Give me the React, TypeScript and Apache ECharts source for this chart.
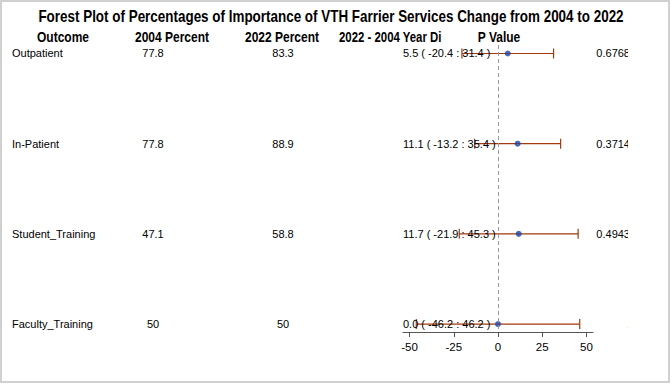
import React, { useEffect, useRef } from "react";
import * as echarts from "echarts";

const titleText =
  "Forest Plot of Percentages of Importance of VTH Farrier Services Change from 2004 to 2022";
const headers = ["Outcome", "2004 Percent", "2022 Percent", "2022 - 2004 Year Di", "P Value"];
const outcomes = ["Outpatient", "In-Patient", "Student_Training", "Faculty_Training"];
const pct2004 = ["77.8", "77.8", "47.1", "50"];
const pct2022 = ["83.3", "88.9", "58.8", "50"];
const diff = [5.5, 11.1, 11.7, 0.0];
const lower = [-20.4, -13.2, -21.9, -46.2];
const upper = [31.4, 35.4, 45.3, 46.2];
const pValues = ["0.6768", "0.3714", "0.4943", "."];
const xTicks = [-50, -25, 0, 25, 50];

const DATA_FONT = '"Liberation Sans", Arial, Helvetica, sans-serif';
const HEAD_FONT = '"Liberation Sans", Arial, sans-serif';
const BAR_COLOR = "#A3390E";
const DOT_COLOR = "#1F44A6";
const NARROW = 0.8;

export default function App() {
  const ref = useRef<HTMLDivElement>(null);

  useEffect(() => {
    if (!ref.current) return;
    const chart = echarts.init(ref.current, null, { renderer: "svg" });
    const rows = outcomes.map((_, i) => i);
    const yMin = -0.094;
    const yMax = 3.088;
    const dataFont = `11px ${DATA_FONT}`;

    const txt = (text: string, x: number, y: number, align: string) => ({
      type: "text",
      x,
      y,
      style: {
        text,
        font: dataFont,
        fill: "#000",
        align,
        verticalAlign: "middle",
        textAlign: align,
        textVerticalAlign: "middle",
      },
    });

    const headerPos: [number, string][] = [
      [63, "center"],
      [172, "center"],
      [282, "center"],
      [339, "left"],
      [499, "center"],
    ];

    const option: any = {
      animation: false,
      backgroundColor: "#ffffff",
      graphic: [
        {
          type: "rect",
          shape: { x: 1, y: 1, width: 668, height: 381 },
          style: { fill: "none", stroke: "#d0d0d0", lineWidth: 2 },
          silent: true,
        },
        {
          type: "text",
          x: 331,
          y: 17,
          scaleX: 0.84,
          style: {
            text: titleText,
            font: `bold 16px ${HEAD_FONT}`,
            fill: "#000",
            textAlign: "center",
            textVerticalAlign: "middle",
            align: "center",
            verticalAlign: "middle",
          },
        },
        ...headers.map((h, k) => ({
          type: "text",
          x: headerPos[k][0],
          y: 37,
          scaleX: k === 3 ? 0.76 : NARROW,
          style: {
            text: h,
            font: `bold 15px ${HEAD_FONT}`,
            fill: "#000",
            textAlign: headerPos[k][1],
            textVerticalAlign: "middle",
            align: headerPos[k][1],
            verticalAlign: "middle",
          },
        })),
      ],
      grid: [
        { left: 403, width: 190, top: 45, height: 287 },
        { left: 0, width: 672, top: 45, height: 287 },
      ],
      xAxis: [
        {
          type: "value",
          gridIndex: 0,
          min: -53.7,
          max: 53.7,
          position: "bottom",
          axisLine: { show: true, onZero: false, lineStyle: { color: "#555", width: 1 } },
          axisTick: {
            show: true,
            customValues: xTicks,
            length: 5,
            lineStyle: { color: "#555" },
          },
          axisLabel: {
            customValues: xTicks,
            fontSize: 11.5,
            color: "#000",
            margin: 9,
            fontFamily: DATA_FONT,
          },
          splitLine: { show: false },
        },
        { type: "value", gridIndex: 1, min: 0, max: 672, show: false },
      ],
      yAxis: [
        { type: "value", gridIndex: 0, min: yMin, max: yMax, inverse: true, show: false },
        { type: "value", gridIndex: 1, min: yMin, max: yMax, inverse: true, show: false },
      ],
      series: [
        {
          type: "custom",
          name: "CI",
          xAxisIndex: 0,
          yAxisIndex: 0,
          clip: false,
          data: rows.map((i) => [lower[i], upper[i], i]),
          encode: { x: [0, 1], y: 2 },
          renderItem: (params: any, api: any) => {
            const y = api.value(2);
            const a = api.coord([api.value(0), y]);
            const b = api.coord([api.value(1), y]);
            const h = 5;
            const st = { stroke: BAR_COLOR, lineWidth: 1.2 };
            return {
              type: "group",
              children: [
                { type: "line", shape: { x1: a[0], y1: a[1], x2: b[0], y2: b[1] }, style: st },
                { type: "line", shape: { x1: a[0], y1: a[1] - h, x2: a[0], y2: a[1] + h }, style: st },
                { type: "line", shape: { x1: b[0], y1: b[1] - h, x2: b[0], y2: b[1] + h }, style: st },
              ],
            };
          },
          z: 2,
        },
        {
          type: "scatter",
          name: "Estimate",
          xAxisIndex: 0,
          yAxisIndex: 0,
          data: rows.map((i) => [diff[i], i]),
          symbol: "circle",
          symbolSize: 6,
          itemStyle: { color: DOT_COLOR },
          z: 3,
          markLine: {
            silent: true,
            symbol: "none",
            label: { show: false },
            lineStyle: { color: "#999", type: [4, 3], width: 1 },
            data: [{ xAxis: 0 }],
          },
        },
        {
          type: "custom",
          name: "Table",
          xAxisIndex: 1,
          yAxisIndex: 1,
          clip: false,
          data: rows.map((i) => [0, i]),
          encode: { x: 0, y: 1 },
          renderItem: (params: any, api: any) => {
            const i = params.dataIndex;
            const y = api.coord([0, api.value(1)])[1];
            const est = `${diff[i].toFixed(1)} ( ${lower[i].toFixed(1)} : ${upper[i].toFixed(1)} )`;
            return {
              type: "group",
              children: [
                txt(outcomes[i], api.coord([12, 0])[0], y, "left"),
                txt(pct2004[i], api.coord([153, 0])[0], y, "center"),
                txt(pct2022[i], api.coord([283, 0])[0], y, "center"),
                txt(est, api.coord([403, 0])[0], y, "left"),
              ],
            };
          },
          z: 4,
        },
        {
          type: "custom",
          name: "PValue",
          xAxisIndex: 1,
          yAxisIndex: 1,
          clip: false,
          data: rows.map((i) => [630, i]),
          encode: { x: 0, y: 1 },
          renderItem: (params: any, api: any) => {
            const i = params.dataIndex;
            const p = api.coord([api.value(0), api.value(1)]);
            return {
              type: "group",
              clipPath: { type: "rect", shape: { x: 560, y: p[1] - 12, width: 68, height: 24 } },
              children: [txt(pValues[i], p[0], p[1], "right")],
            };
          },
          z: 4,
        },
      ],
    };

    chart.setOption(option);
    return () => chart.dispose();
  }, []);

  return (
    <div
      ref={ref}
      style={{
        position: "absolute",
        left: 0,
        top: 0,
        width: 672,
        height: 384,
        background: "#fff",
      }}
    />
  );
}
